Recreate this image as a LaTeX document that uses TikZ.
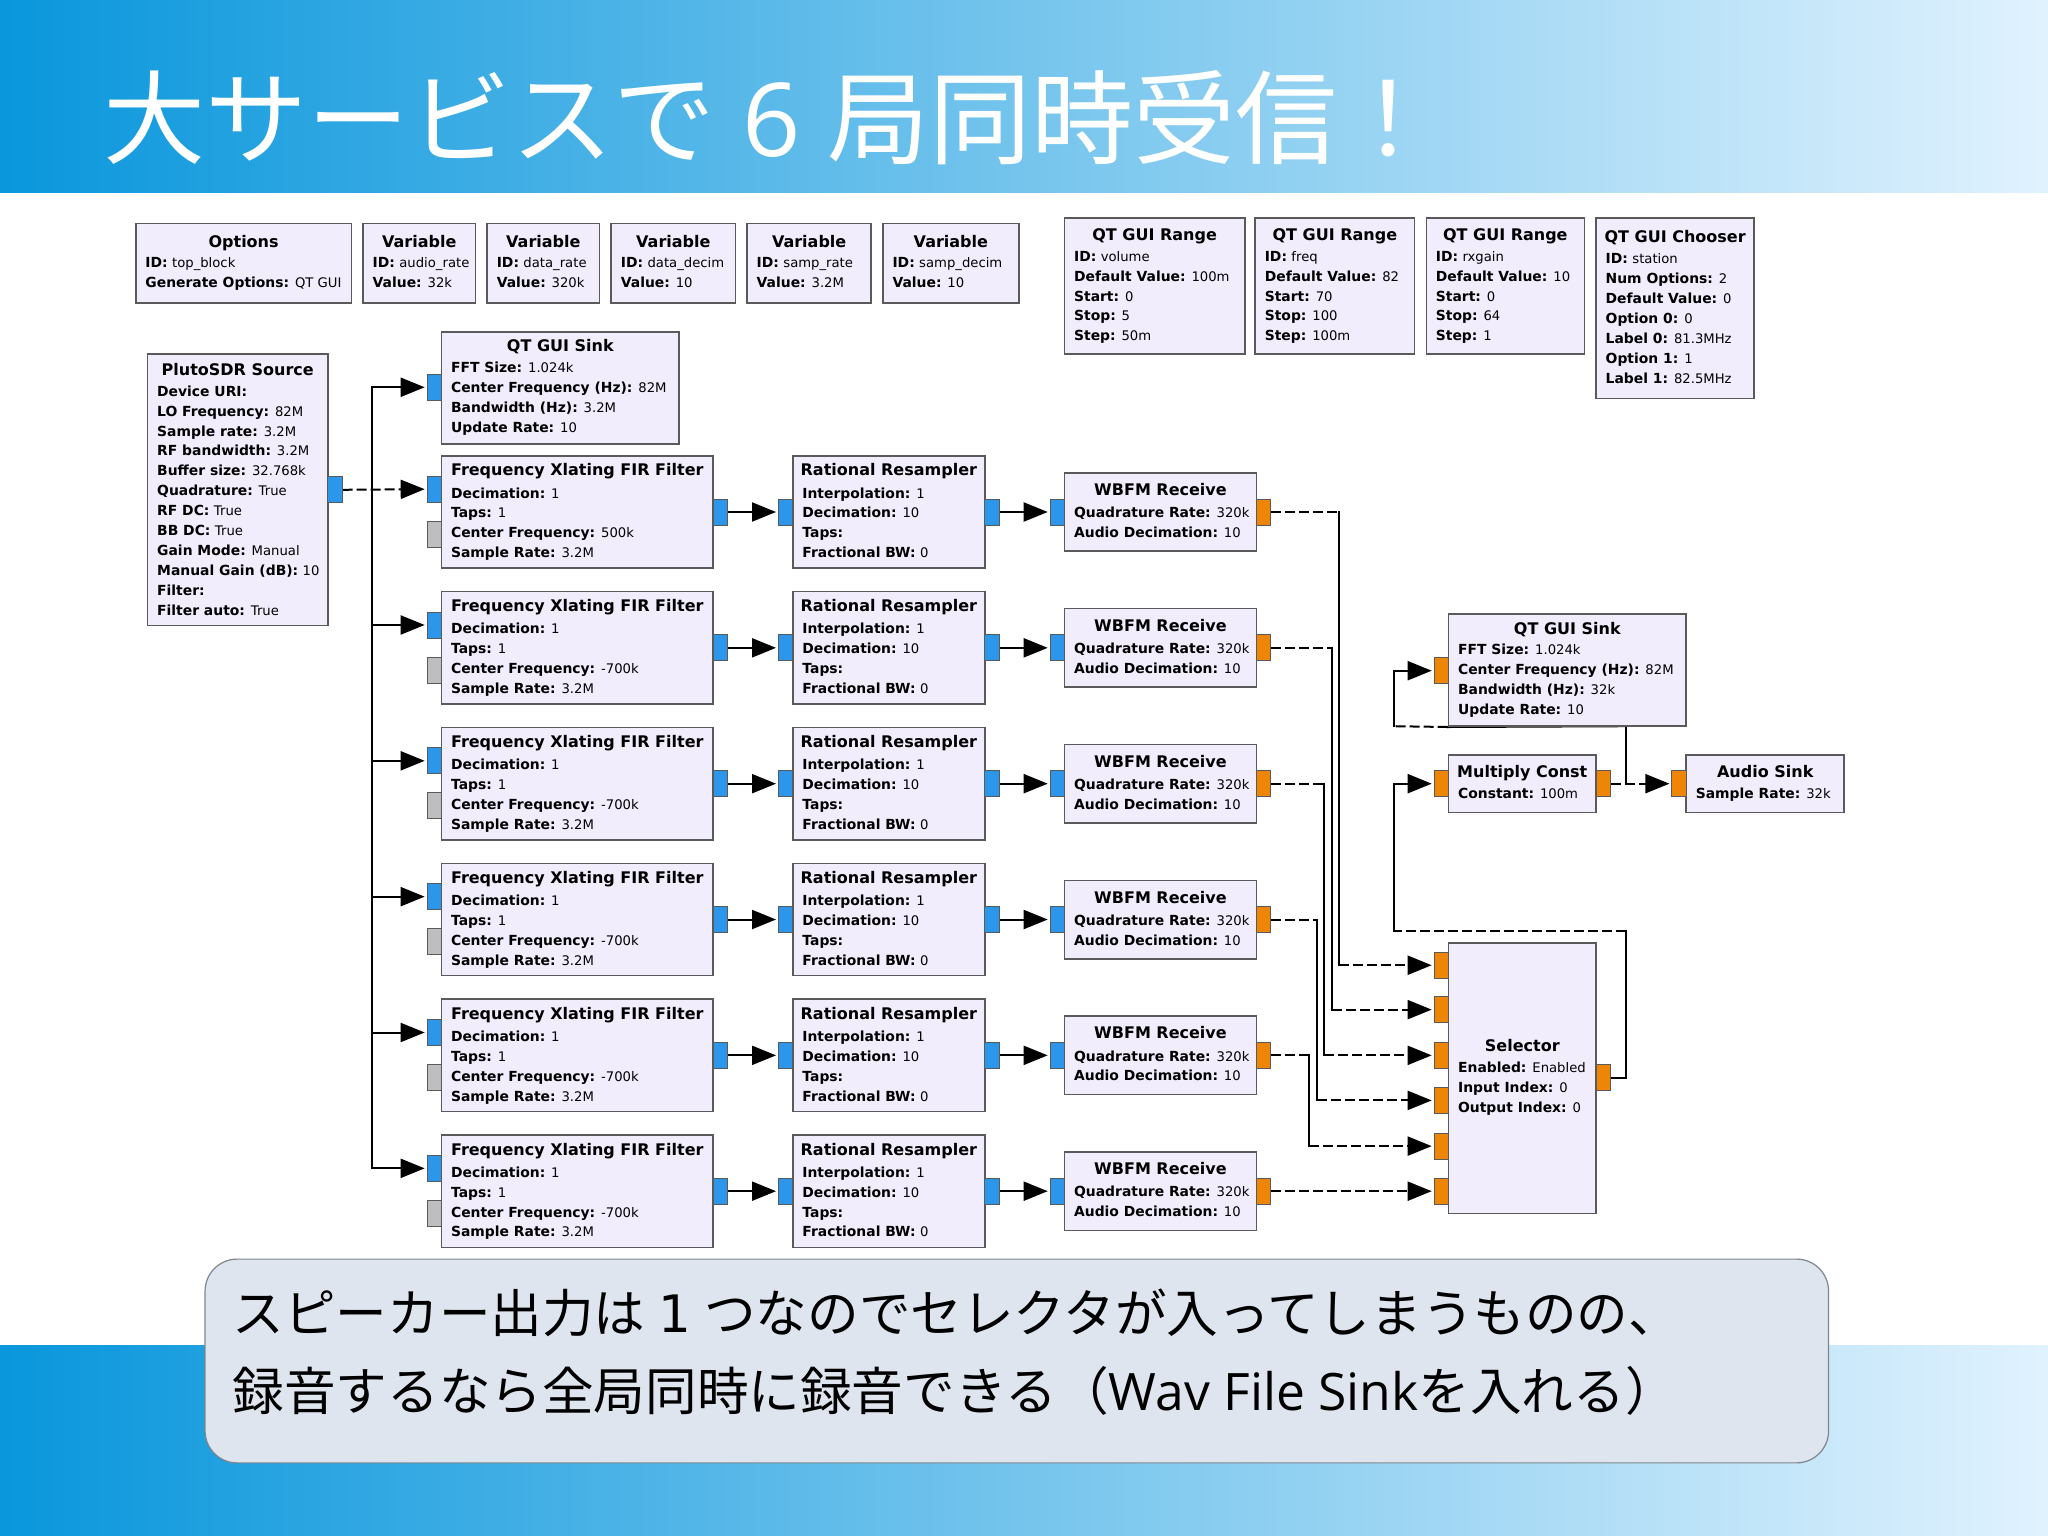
\documentclass[tikz,border=0pt]{standalone}
\usepackage{fontspec}
\setmainfont{DejaVu Sans}
\newfontfamily\cjkf{Noto Sans CJK JP}
\newfontfamily\latf{Open Sans}
\usetikzlibrary{arrows.meta,fit,calc,backgrounds}
\definecolor{blockfill}{HTML}{F1EDFD}
\definecolor{blockline}{HTML}{5A5A5A}
\definecolor{portblue}{HTML}{2B96EA}
\definecolor{portorange}{HTML}{EE8505}
\definecolor{portgrey}{HTML}{BEBEBE}
\definecolor{bandleft}{HTML}{0A97DC}
\definecolor{bandright}{HTML}{E0F2FE}
\definecolor{notefill}{HTML}{DEE5EE}
\definecolor{noteline}{HTML}{7F868E}
\tikzset{
  blockbox/.style={draw=blockline,line width=1.6pt,fill=blockfill,inner sep=0pt,rectangle},
  blocktitle/.style={inner sep=0pt,font=\fontsize{16}{18}\selectfont\bfseries,text height=11.5pt,text depth=0pt,anchor=center},
  blockbody/.style={inner sep=0pt,anchor=north west,align=left,font=\fontsize{13.9}{19.9}\selectfont},
  portbox/.style={rectangle,draw=blockline,line width=.8pt,minimum width=14.4pt,minimum height=26pt,inner sep=0pt},
  portb/.style={portbox,fill=portblue},
  porto/.style={portbox,fill=portorange},
  portg/.style={portbox,fill=portgrey},
  wire/.style={line width=2pt,black,line cap=rect},
  hdash/.style={wire,line cap=butt,dash pattern=on 10pt off 4pt},
  tip/.style={-{Triangle[length=24pt,width=19pt]},shorten >=2pt},
  band/.style={left color=bandleft,right color=bandright,draw=none,shading angle=90},
  bigtitle/.style={inner sep=0pt,anchor=west,text=white,font=\fontsize{102}{110}\selectfont},
  notetext/.style={inner sep=0pt,anchor=west,text=black,font=\fontsize{51.6}{60}\selectfont},
}
\newcommand{\kvl}[2]{\textbf{#1:} {\fontsize{13.2}{19.9}\selectfont #2}}
\newcommand{\block}[9]{%
  \node[blockbox,fit={(#2,#3) (#4,#5)}] (#1) {};
  \pgfmathsetmacro\bcx{(#2+#4)/2}
  \node[blocktitle] (#1t) at (\bcx,#7) {#6};
  \pgfmathsetmacro\bby{#8-3.9}
  \pgfmathsetmacro\bbx{#2+7.2}
  \node[blockbody] (#1b) at (\bbx,\bby) {#9};
}
\newcommand{\vwire}[3]{%
  \draw[hdash] (#1.east) -- (#1.east -| #2);
  \draw[wire] (#1.east -| #2) -- (#3.west -| #2);
  \draw[hdash,tip] (#3.west -| #2) -- (#3.west);
}
\pgfdeclarelayer{bg}
\pgfsetlayers{bg,main}
\begin{document}
\begin{tikzpicture}[x=1.30612pt,y=-1.30612pt]
\useasboundingbox (0,0) rectangle (1568,1176);
\begin{pgfonlayer}{bg}
  \fill[white] (0,0) rectangle (1568,1176);
\end{pgfonlayer}
\fill[band] (0,0) rectangle (1568,147);
\fill[band] (0,1030) rectangle (1568,1176);
\node[bigtitle] (head) at (79,90) {{\cjkf 大サービスで}\hspace{27pt}{\latf 6}\hspace{27pt}{\cjkf 局同時受信！}};
\node[draw=noteline,line width=1.2pt,fill=notefill,rounded corners=32pt,inner sep=0pt,fit={(157,964) (1400,1120)}] (note) {};
\node[notetext] (note1) at (178,1005) {{\cjkf スピーカー出力は}\hspace{13pt}1\hspace{13pt}{\cjkf つなのでセレクタが入ってしまうものの、}};
\node[notetext] (note2) at (178,1065) {{\cjkf 録音するなら全局同時に録音できる（}{\latf Wav File Sink}{\cjkf を入れる）}};

% top row
\block{opt}{104}{171}{269}{232}{Options}{185}{201}{\kvl{ID}{top\_block}\\\kvl{Generate Options}{QT GUI}}
\block{va}{278}{171}{364}{232}{Variable}{185}{201}{\kvl{ID}{audio\_rate}\\\kvl{Value}{32k}}
\block{vb}{373}{171}{459}{232}{Variable}{185}{201}{\kvl{ID}{data\_rate}\\\kvl{Value}{320k}}
\block{vc}{468}{171}{563}{232}{Variable}{185}{201}{\kvl{ID}{data\_decim}\\\kvl{Value}{10}}
\block{vd}{572}{171}{667}{232}{Variable}{185}{201}{\kvl{ID}{samp\_rate}\\\kvl{Value}{3.2M}}
\block{ve}{676}{171}{780}{232}{Variable}{185}{201}{\kvl{ID}{samp\_decim}\\\kvl{Value}{10}}
\block{rga}{815}{167}{953}{271}{QT GUI Range}{180}{196}{\kvl{ID}{volume}\\\kvl{Default Value}{100m}\\\kvl{Start}{0}\\\kvl{Stop}{5}\\\kvl{Step}{50m}}
\block{rgb}{961}{167}{1083}{271}{QT GUI Range}{180}{196}{\kvl{ID}{freq}\\\kvl{Default Value}{82}\\\kvl{Start}{70}\\\kvl{Stop}{100}\\\kvl{Step}{100m}}
\block{rgc}{1092}{167}{1213}{271}{QT GUI Range}{180}{196}{\kvl{ID}{rxgain}\\\kvl{Default Value}{10}\\\kvl{Start}{0}\\\kvl{Stop}{64}\\\kvl{Step}{1}}
\block{chs}{1222}{167}{1343}{305}{QT GUI Chooser}{181}{198}{\kvl{ID}{station}\\\kvl{Num Options}{2}\\\kvl{Default Value}{0}\\\kvl{Option 0}{0}\\\kvl{Label 0}{81.3MHz}\\\kvl{Option 1}{1}\\\kvl{Label 1}{82.5MHz}}

% source and first sink
\block{pluto}{113}{271}{251}{479}{PlutoSDR Source}{283}{299}{\textbf{Device URI:}\\\kvl{LO Frequency}{82M}\\\kvl{Sample rate}{3.2M}\\\kvl{RF bandwidth}{3.2M}\\\kvl{Buffer size}{32.768k}\\\kvl{Quadrature}{True}\\\kvl{RF DC}{True}\\\kvl{BB DC}{True}\\\kvl{Gain Mode}{Manual}\\\kvl{Manual Gain (dB)}{10}\\\textbf{Filter:}\\\kvl{Filter auto}{True}}
\node[portb] (plutoo) at (256.5,375) {};
\block{qsa}{338}{254}{520}{340}{QT GUI Sink}{265}{281}{\kvl{FFT Size}{1.024k}\\\kvl{Center Frequency (Hz)}{82M}\\\kvl{Bandwidth (Hz)}{3.2M}\\\kvl{Update Rate}{10}}
\node[portb] (qsai) at (332.5,296.5) {};

% the six channels
\foreach \r in {1,...,6}{
  \pgfmathtruncatemacro\ta{349+104*(\r-1)}
  \pgfmathtruncatemacro\tb{\ta+86}
  \pgfmathtruncatemacro\wa{\ta+13}
  \pgfmathtruncatemacro\wb{\ta+73}
  \pgfmathtruncatemacro\ya{\ta+11}
  \pgfmathtruncatemacro\yb{\ta+28}
  \pgfmathtruncatemacro\yc{\ta+26}
  \pgfmathtruncatemacro\yd{\ta+43}
  \pgfmathtruncatemacro\ye{\ta+60}
  \ifnum\r=1 \def\cf{500k}\else\def\cf{-700k}\fi
  \block{f\r}{338}{\ta}{546}{\tb}{Frequency Xlating FIR Filter}{\ya}{\yb}{\kvl{Decimation}{1}\\\kvl{Taps}{1}\\\kvl{Center Frequency}{\cf}\\\kvl{Sample Rate}{3.2M}}
  \block{r\r}{607}{\ta}{754}{\tb}{Rational Resampler}{\ya}{\yb}{\kvl{Interpolation}{1}\\\kvl{Decimation}{10}\\\textbf{Taps:}\\\kvl{Fractional BW}{0}}
  \block{w\r}{815}{\wa}{962}{\wb}{WBFM Receive}{\yc}{\yd}{\kvl{Quadrature Rate}{320k}\\\kvl{Audio Decimation}{10}}
  \node[portb] (f\r-i) at (332.5,{\ta+25.5}) {};
  \node[portg] (f\r-g) at (332.5,\ye) {};
  \node[portb] (f\r-o) at (551.5,\yd) {};
  \node[portb] (r\r-i) at (601.5,\yd) {};
  \node[portb] (r\r-o) at (759.5,\yd) {};
  \node[portb] (w\r-i) at (809.5,\yd) {};
  \node[porto] (w\r-o) at (967.5,\yd) {};
}

% right side
\block{qsb}{1109}{470}{1291}{556}{QT GUI Sink}{481}{497}{\kvl{FFT Size}{1.024k}\\\kvl{Center Frequency (Hz)}{82M}\\\kvl{Bandwidth (Hz)}{32k}\\\kvl{Update Rate}{10}}
\node[porto] (qsbi) at (1103.5,513.5) {};
\block{mc}{1109}{578}{1222}{622}{Multiply Const}{591}{607}{\kvl{Constant}{100m}}
\node[porto] (mci) at (1103.5,600) {};
\node[porto] (mco) at (1227.5,600) {};
\block{asink}{1291}{578}{1412}{622}{Audio Sink}{591}{607}{\kvl{Sample Rate}{32k}}
\node[porto] (asinki) at (1285.5,600) {};
\block{sel}{1109}{722}{1222}{929}{Selector}{801}{817}{\kvl{Enabled}{Enabled}\\\kvl{Input Index}{0}\\\kvl{Output Index}{0}}
\node[porto] (s1) at (1103.5,739) {};
\node[porto] (s2) at (1103.5,773) {};
\node[porto] (s3) at (1103.5,808) {};
\node[porto] (s4) at (1103.5,842.5) {};
\node[porto] (s5) at (1103.5,877.5) {};
\node[porto] (s6) at (1103.5,912) {};
\node[porto] (selo) at (1227.5,825) {};

% routing guides
\coordinate (trunk) at (285,375);
\coordinate (va1) at (1025,0);
\coordinate (va2) at (1020,0);
\coordinate (va3) at (1014,0);
\coordinate (va4) at (1008,0);
\coordinate (va5) at (1002,0);
\coordinate (vsel) at (1245,0);
\coordinate (vtop) at (1245,713);
\coordinate (vtopl) at (1067,713);
\coordinate (vlow) at (1245,556);
\coordinate (vlowl) at (1067,556);

\begin{pgfonlayer}{bg}
  \draw[wire] (qsai.west -| trunk) -- (f6-i.west -| trunk);
  \draw[hdash,tip] (plutoo.east) -- (f1-i.west);
  \draw[wire,tip] (qsai.west -| trunk) -- (qsai.west);
  \foreach \r in {2,...,6}{
    \draw[wire,tip] (f\r-i.west -| trunk) -- (f\r-i.west);
  }
  \foreach \r in {1,...,6}{
    \draw[wire,tip] (f\r-o.east) -- (r\r-i.west);
    \draw[wire,tip] (r\r-o.east) -- (w\r-i.west);
  }
  \vwire{w1-o}{va1}{s1}
  \vwire{w2-o}{va2}{s2}
  \vwire{w3-o}{va3}{s3}
  \vwire{w4-o}{va4}{s4}
  \vwire{w5-o}{va5}{s5}
  \draw[hdash,tip] (w6-o.east) -- (s6.west);
  % selector to multiply
  \draw[wire] (selo.east) -- (selo.east -| vsel) -- (vtop);
  \draw[hdash] (vtop) -- (vtopl);
  \draw[wire] (vtopl) -- (mci.west -| vtopl);
  \draw[wire,tip] (mci.west -| vtopl) -- (mci.west);
  % multiply to sinks
  \draw[hdash,tip] (mco.east) -- (asinki.west);
  \draw[wire] (mco.east -| vsel) -- (vlow);
  \draw[wire] (vlow) -- (qsb.south west);
  \draw[hdash] (qsb.south west) -- (vlowl);
  \draw[wire] (vlowl) -- (qsbi.west -| vlowl);
  \draw[wire,tip] (qsbi.west -| vlowl) -- (qsbi.west);
\end{pgfonlayer}
\end{tikzpicture}
\end{document}
